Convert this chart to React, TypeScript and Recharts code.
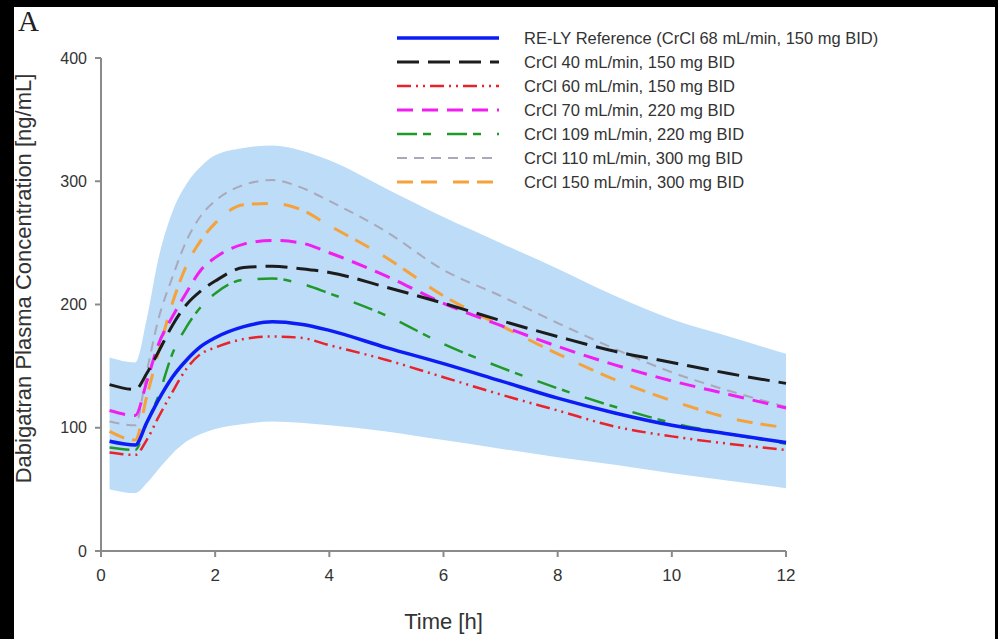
import React from "react";
import {
  ComposedChart,
  Area,
  Line,
  XAxis,
  YAxis,
  Legend,
} from "recharts";

// time points (h) shared by every curve
const times = [0.15, 0.6, 0.8, 1, 1.25, 1.5, 1.75, 2, 2.5, 3, 3.5, 4, 5, 6, 7, 8, 9, 10, 11, 12];

// shaded band of the RE-LY reference
const bandLower = [50, 47, 55, 66, 79, 89, 95, 99, 103, 105, 104, 102, 97, 90, 83, 76, 70, 63, 57, 51];
const bandUpper = [157, 153, 188, 236, 275, 298, 312, 321, 327, 329, 325, 317, 294, 271, 250, 229, 207, 188, 174, 160];

const relyRef = [89, 86, 104, 122, 141, 155, 166, 173, 182, 186, 184, 179, 165, 152, 138, 124, 112, 102, 95, 88];
const crcl40 = [135, 131, 144, 161, 183, 200, 211, 219, 230, 231, 229, 226, 214, 201, 187, 174, 162, 153, 144, 136];
const crcl60 = [80, 78, 90, 108, 129, 148, 160, 165, 172, 174, 173, 167, 155, 141, 127, 114, 101, 93, 87, 82];
const crcl70 = [114, 110, 137, 167, 190, 210, 228, 238, 249, 252, 250, 242, 223, 201, 183, 166, 151, 138, 127, 116];
const crcl109 = [84, 82, 104, 125, 160, 182, 198, 209, 220, 221, 217, 209, 191, 168, 149, 132, 117, 104, 95, 87];
const crcl110 = [105, 102, 145, 187, 222, 252, 272, 284, 297, 301, 295, 284, 259, 228, 207, 185, 164, 145, 130, 117];
const crcl150 = [97, 90, 125, 160, 201, 232, 252, 266, 281, 282, 277, 264, 238, 207, 183, 160, 139, 122, 108, 100];

const xTicks = [0, 2, 4, 6, 8, 10, 12];
const yTicks = [0, 100, 200, 300, 400];

const series = [
  { key: "ref", name: "RE-LY Reference (CrCl 68 mL/min, 150 mg BID)", values: relyRef, color: "#0b1cf5", width: 3.5, dash: undefined },
  { key: "c40", name: "CrCl 40 mL/min, 150 mg BID", values: crcl40, color: "#1c1c1c", width: 3, dash: "22 9" },
  { key: "c60", name: "CrCl 60 mL/min, 150 mg BID", values: crcl60, color: "#e8232a", width: 2.5, dash: "14 5 2 5 2 5" },
  { key: "c70", name: "CrCl 70 mL/min, 220 mg BID", values: crcl70, color: "#f01ef0", width: 3, dash: "16 9" },
  { key: "c109", name: "CrCl 109 mL/min, 220 mg BID", values: crcl109, color: "#1f9a2a", width: 2.5, dash: "20 6 8 16" },
  { key: "c110", name: "CrCl 110 mL/min, 300 mg BID", values: crcl110, color: "#a9a9bb", width: 2, dash: "10 7" },
  { key: "c150", name: "CrCl 150 mL/min, 300 mg BID", values: crcl150, color: "#f5a23c", width: 3, dash: "16 8 16 16" },
];

const data = times.map((t, i) => {
  const row: Record<string, number | number[]> = { t, band: [bandLower[i], bandUpper[i]] };
  series.forEach((s) => {
    row[s.key] = s.values[i];
  });
  return row;
});

const font = "'Liberation Sans', Arial, sans-serif";

function LegendBox() {
  return (
    <div style={{ fontFamily: font, fontSize: 16.5, color: "#333" }}>
      {series.map((s) => (
        <div key={s.key} style={{ display: "flex", alignItems: "center", height: 24 }}>
          <svg width={102} height={10} style={{ marginRight: 25 }}>
            <line
              x1={0}
              y1={5}
              x2={102}
              y2={5}
              stroke={s.color}
              strokeWidth={s.width}
              strokeDasharray={s.dash}
            />
          </svg>
          <span style={{ whiteSpace: "nowrap" }}>{s.name}</span>
        </div>
      ))}
    </div>
  );
}

export default function App() {
  return (
    <div style={{ position: "absolute", left: 0, top: 0, width: 998, height: 639, background: "#000" }}>
      <div style={{ position: "absolute", left: 14, top: 7, width: 981, height: 632, background: "#fff" }} />
      <div
        style={{
          position: "absolute",
          left: 18,
          top: 5,
          fontFamily: "'Liberation Serif', serif",
          fontSize: 29,
          color: "#222",
        }}
      >
        A
      </div>
      <div style={{ position: "absolute", left: 0, top: 0 }}>
        <ComposedChart
          width={998}
          height={639}
          data={data}
          margin={{ top: 58, right: 212, bottom: 48, left: 41 }}
        >
          <XAxis
            dataKey="t"
            type="number"
            domain={[0, 12]}
            ticks={xTicks}
            height={40}
            stroke="#8a8a8a"
            strokeWidth={2}
            tickSize={6}
            tickMargin={12}
            tick={{ fill: "#333", fontSize: 17, fontFamily: font }}
            label={{
              value: "Time [h]",
              position: "insideBottom",
              offset: -38,
              fill: "#333",
              fontSize: 22,
              fontFamily: font,
            }}
          />
          <YAxis
            type="number"
            domain={[0, 400]}
            ticks={yTicks}
            width={60}
            stroke="#8a8a8a"
            strokeWidth={2}
            tickSize={6}
            tickMargin={8}
            tick={{ fill: "#333", fontSize: 16, fontFamily: font }}
            label={{
              value: "Dabigatran Plasma Concentration [ng/mL]",
              angle: -90,
              position: "insideLeft",
              dx: -23,
              dy: -26,
              fill: "#333",
              fontSize: 22,
              fontFamily: font,
              style: { textAnchor: "middle" },
            }}
          />
          <Area
            dataKey="band"
            type="monotone"
            stroke="none"
            fill="#bddcf7"
            fillOpacity={1}
            isAnimationActive={false}
          />
          {[...series].reverse().map((s) => (
            <Line
              key={s.key}
              dataKey={s.key}
              name={s.name}
              type="monotone"
              stroke={s.color}
              strokeWidth={s.width}
              strokeDasharray={s.dash}
              dot={false}
              activeDot={false}
              isAnimationActive={false}
            />
          ))}
          <Legend
            layout="horizontal"
            verticalAlign="middle"
            align="center"
            wrapperStyle={{ top: 26, left: 397, width: 580 }}
            content={() => <LegendBox />}
          />
        </ComposedChart>
      </div>
    </div>
  );
}
